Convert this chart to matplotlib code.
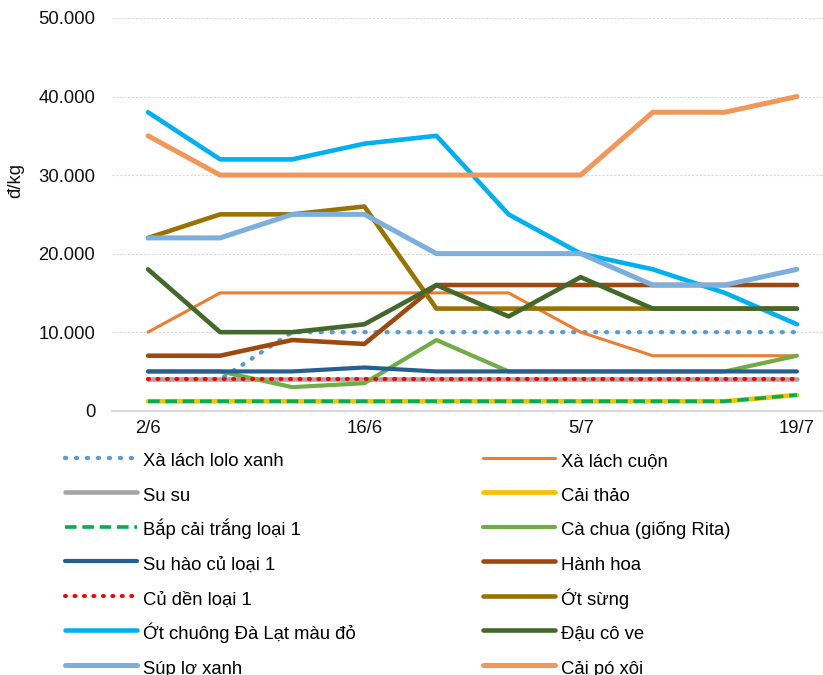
import matplotlib
matplotlib.use("Agg")
import matplotlib.pyplot as plt
from matplotlib.ticker import FuncFormatter

plt.rcParams['font.family'] = ['Liberation Sans', 'DejaVu Sans']

dates = ['2/6', '7/6', '11/6', '16/6', '23/6', '28/6', '5/7', '9/7', '14/7', '19/7']

xa_lach_lolo = [4000, 4000, 10000, 10000, 10000, 10000, 10000, 10000, 10000, 10000]
xa_lach_cuon = [10000, 15000, 15000, 15000, 15000, 15000, 10000, 7000, 7000, 7000]
su_su = [4000, 4000, 4000, 4000, 4000, 4000, 4000, 4000, 4000, 4000]
cai_thao = [1200, 1200, 1200, 1200, 1200, 1200, 1200, 1200, 1200, 2000]
bap_cai = [1200, 1200, 1200, 1200, 1200, 1200, 1200, 1200, 1200, 2000]
ca_chua = [5000, 5000, 3000, 3500, 9000, 5000, 5000, 5000, 5000, 7000]
su_hao = [5000, 5000, 5000, 5500, 5000, 5000, 5000, 5000, 5000, 5000]
hanh_hoa = [7000, 7000, 9000, 8500, 16000, 16000, 16000, 16000, 16000, 16000]
cu_den = [4000, 4000, 4000, 4000, 4000, 4000, 4000, 4000, 4000, 4000]
ot_sung = [22000, 25000, 25000, 26000, 13000, 13000, 13000, 13000, 13000, 13000]
ot_chuong = [38000, 32000, 32000, 34000, 35000, 25000, 20000, 18000, 15000, 11000]
dau_co_ve = [18000, 10000, 10000, 11000, 16000, 12000, 17000, 13000, 13000, 13000]
sup_lo = [22000, 22000, 25000, 25000, 20000, 20000, 20000, 16000, 16000, 18000]
cai_bo_xoi = [35000, 30000, 30000, 30000, 30000, 30000, 30000, 38000, 38000, 40000]

names = ['Xà lách lolo xanh', 'Xà lách cuộn', 'Su su', 'Cải thảo',
         'Bắp cải trắng loại 1', 'Cà chua (giống Rita)', 'Su hào củ loại 1',
         'Hành hoa', 'Củ dền loại 1', 'Ớt sừng', 'Ớt chuông Đà Lạt màu đỏ',
         'Đậu cô ve', 'Súp lơ xanh', 'Cải pó xôi']
series = [xa_lach_lolo, xa_lach_cuon, su_su, cai_thao, bap_cai, ca_chua, su_hao,
          hanh_hoa, cu_den, ot_sung, ot_chuong, dau_co_ve, sup_lo, cai_bo_xoi]
colors = ['#5B9BD5', '#ED7D31', '#A5A5A5', '#FFC000', '#00B050', '#70AD47',
          '#255E91', '#9E480E', '#FF0000', '#997300', '#00B0F0', '#43682B',
          '#7CAFDD', '#F1975A']
widths = [3.1, 2.2, 3.3, 3.4, 2.6, 3.0, 3.0, 3.3, 2.9, 3.3, 3.3, 3.3, 3.6, 3.6]
styles = [(0, (0.25, 2.3)), '-', '-', '-', (0, (3.2, 1.6)), '-', '-', '-',
          (0, (0.25, 2.1)), '-', '-', '-', '-', '-']
caps = ['round', 'butt', 'butt', 'butt', 'butt', 'butt', 'butt', 'butt',
        'round', 'butt', 'butt', 'butt', 'butt', 'butt']

W, H = 823, 675
fig = plt.figure(figsize=(W / 100, H / 100), dpi=100)
ax = fig.add_axes([112 / W, (H - 410.7) / H, 721 / W, 392.7 / H])

x = list(range(len(dates)))
handles = []
for vals, name, c, lw, ls, cap in zip(series, names, colors, widths, styles, caps):
    ln, = ax.plot(x, vals, color=c, lw=lw, linestyle=ls, label=name,
                  solid_capstyle='round', solid_joinstyle='round',
                  dash_capstyle=cap)
    handles.append(ln)

ax.set_xlim(-0.5, len(dates) - 0.5)
ax.set_ylim(0, 50000)
ax.set_yticks([0, 10000, 20000, 30000, 40000, 50000])
ax.yaxis.set_major_formatter(FuncFormatter(lambda v, p: f'{int(v):,}'.replace(',', '.')))
ax.set_xticks(x[::3])
ax.set_xticklabels(dates[::3])
ax.tick_params(axis='both', length=0, labelsize=13.3, colors='#111111')
ax.tick_params(axis='y', pad=12)
ax.tick_params(axis='x', pad=7)
ax.grid(axis='y', color='#D9D9D9', lw=0.8, linestyle=(0, (2, 1.5)))
ax.set_axisbelow(True)
for s in ['left', 'right', 'top']:
    ax.spines[s].set_visible(False)
ax.spines['bottom'].set_color('#D9D9D9')
ax.spines['bottom'].set_linewidth(1.5)

ax.set_ylabel('đ/kg', fontsize=13.3, color='#111111')
ax.yaxis.set_label_coords((24 - 112) / 721, 0.585)

leg_kw = dict(frameon=False, fontsize=13.3, handlelength=3.9, handletextpad=0.32,
              handleheight=1.5, labelspacing=0.65, borderpad=0, borderaxespad=0,
              loc='upper left')
left = handles[0::2]
right = handles[1::2]
leg1 = fig.legend(left, [h.get_label() for h in left],
                  bbox_to_anchor=(65 / W, 1 - 449 / H), **leg_kw)
leg2 = fig.legend(right, [h.get_label() for h in right],
                  bbox_to_anchor=(483 / W, 1 - 449 / H), **leg_kw)

fig.savefig('out.png', dpi=100)
